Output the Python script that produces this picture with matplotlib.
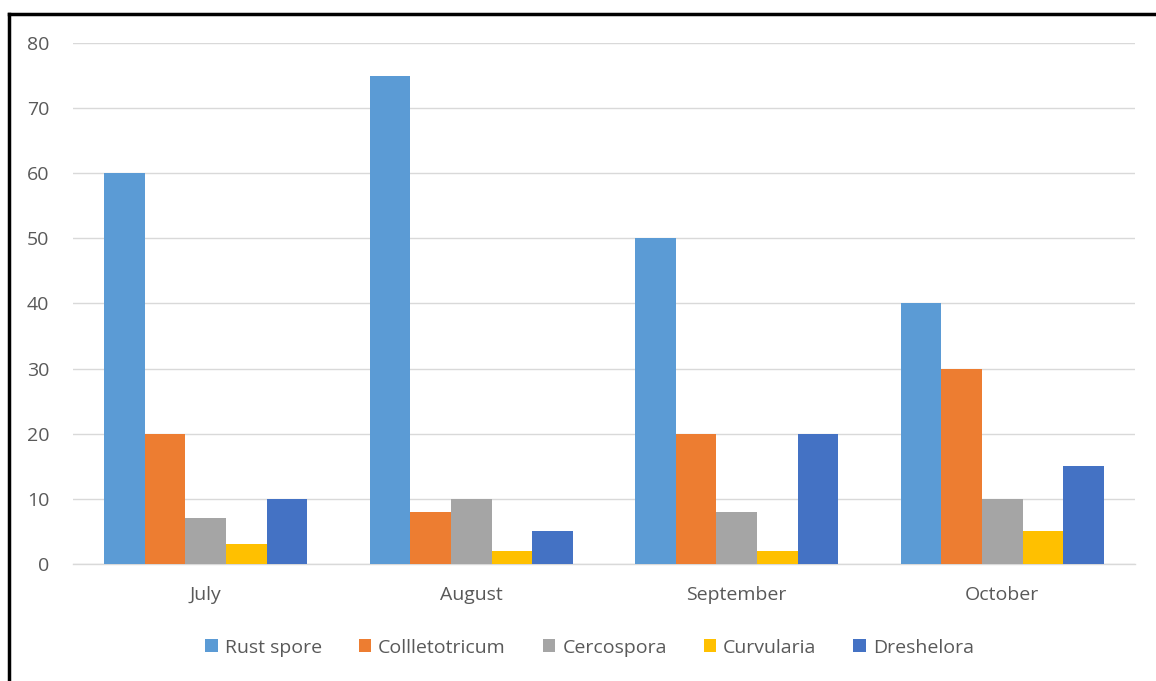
import matplotlib
matplotlib.use("Agg")
import matplotlib.pyplot as plt
from matplotlib.lines import Line2D
from matplotlib.patches import Patch
import numpy as np

months = ["July", "August", "September", "October"]
series_names = ["Rust spore", "Collletotricum", "Cercospora", "Curvularia", "Dreshelora"]
rust_spore = [60, 75, 50, 40]
colletotricum = [20, 8, 20, 30]
cercospora = [7, 10, 8, 10]
curvularia = [3, 2, 2, 5]
dreshelora = [10, 5, 20, 15]
series_values = [rust_spore, colletotricum, cercospora, curvularia, dreshelora]
colors = ["#5B9BD5", "#ED7D31", "#A5A5A5", "#FFC000", "#4472C4"]
y_ticks = [0, 10, 20, 30, 40, 50, 60, 70, 80]

plt.rcParams["font.family"] = ["Open Sans", "DejaVu Sans"]
text_color = "#595959"

fig = plt.figure(figsize=(11.56, 6.81), dpi=100)
ax = fig.add_axes([0.0631, 0.1718, 0.9187, 0.7651])

n = len(series_names)
group_w = 0.765
bar_w = group_w / n
x = np.arange(len(months))
for i, (name, vals, c) in enumerate(zip(series_names, series_values, colors)):
    offs = -group_w / 2 + bar_w * (i + 0.5)
    ax.bar(x + offs, vals, width=bar_w, color=c, label=name, zorder=3, linewidth=0)

ax.set_xlim(-0.5, len(months) - 0.5)
ax.set_ylim(0, 80)
ax.set_yticks(y_ticks)
ax.set_xticks(x)
ax.set_xticklabels(months)
ax.yaxis.grid(True, color="#D9D9D9", linewidth=1.0, zorder=0)
ax.set_axisbelow(True)
for s in ["top", "right", "left"]:
    ax.spines[s].set_visible(False)
ax.spines["bottom"].set_color("#D9D9D9")
ax.spines["bottom"].set_linewidth(1.0)
ax.tick_params(axis="both", length=0, labelsize=14, colors=text_color)
ax.tick_params(axis="y", pad=17)
ax.tick_params(axis="x", pad=16)

handles = [Patch(facecolor=c, label=nm) for nm, c in zip(series_names, colors)]
fig.legend(handles=handles, loc="center", bbox_to_anchor=(0.51, 0.049), ncol=n,
           frameon=False, fontsize=14, labelcolor=text_color,
           handlelength=0.65, handleheight=0.65, handletextpad=0.35, columnspacing=1.9)

# frame along the left and top edges
fig.add_artist(Line2D([9 / 1156, 9 / 1156], [0, 1 - 14 / 681], color="black", linewidth=2.5,
                      transform=fig.transFigure))
fig.add_artist(Line2D([9 / 1156, 1], [1 - 14 / 681, 1 - 14 / 681], color="black", linewidth=2.5,
                      transform=fig.transFigure))

fig.savefig("out.png", dpi=100, facecolor="white")
